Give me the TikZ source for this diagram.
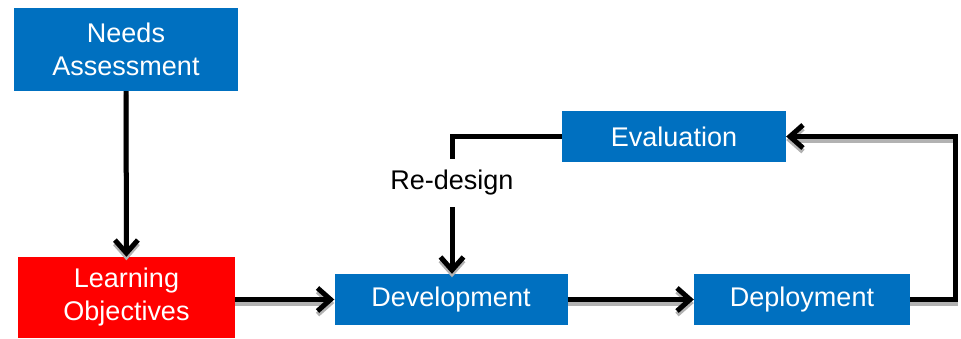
\documentclass[tikz,border=0pt]{standalone}
\usepackage{fontspec}
\setmainfont{Liberation Sans}
\usetikzlibrary{arrows.meta,calc}

\definecolor{boxblue}{HTML}{0070C0}
\definecolor{boxred}{HTML}{FF0000}

% a connector with its grey shadow below it
\newcommand\shadedlink[2][link]{%
  \draw[#1, draw=black!30, transform canvas={yshift=-3.5pt}] #2;
  \draw[#1] #2;}

\begin{document}
\begin{tikzpicture}[
        x=1pt, y=-1pt,
        boxtag/.style={align=center, font=\fontsize{27}{33}\selectfont\color{white}},
        box/.style={fill=boxblue, inner sep=0pt, boxtag},
        link/.style={line width=5pt, -{Straight Barb[length=13pt,width=23pt]}},
        plainlink/.style={line width=5pt}
      ]
      \useasboundingbox (0,0) rectangle (961,338);

      \node (NA) at (126, 49.5) [box, minimum width=224pt, minimum height=83pt] {Needs\\Assessment};
      \node (LO) at (126.5, 297.5) [box, fill=boxred, minimum width=217pt, minimum height=81pt] {Learning\\Objectives};
      \node (DV) at (451, 299.5) [box, minimum width=233pt, minimum height=51pt] {Development};
      \node (DP) at (802, 299.5) [box, minimum width=216pt, minimum height=51pt] {Deployment};
      \node (EV) at (674, 136.5) [box, minimum width=224pt, minimum height=51pt] {Evaluation};
      \node (RD) at (452, 183) [inner sep=0pt, minimum height=48pt, font=\fontsize{27}{33}\selectfont] {Re-design};

      \shadedlink{(NA) -- (LO)}
      \shadedlink{(LO.east |- DV) -- (DV.west)}
      \shadedlink{(DV) -- (DP)}
      \shadedlink{(DP.east) -- ++(45.5,0) |- (EV.east)}
      \draw[plainlink] (EV.west) -| (RD.north);
      \shadedlink{(RD.south) -- (DV.north -| RD.south)}
    \end{tikzpicture}
\end{document}
